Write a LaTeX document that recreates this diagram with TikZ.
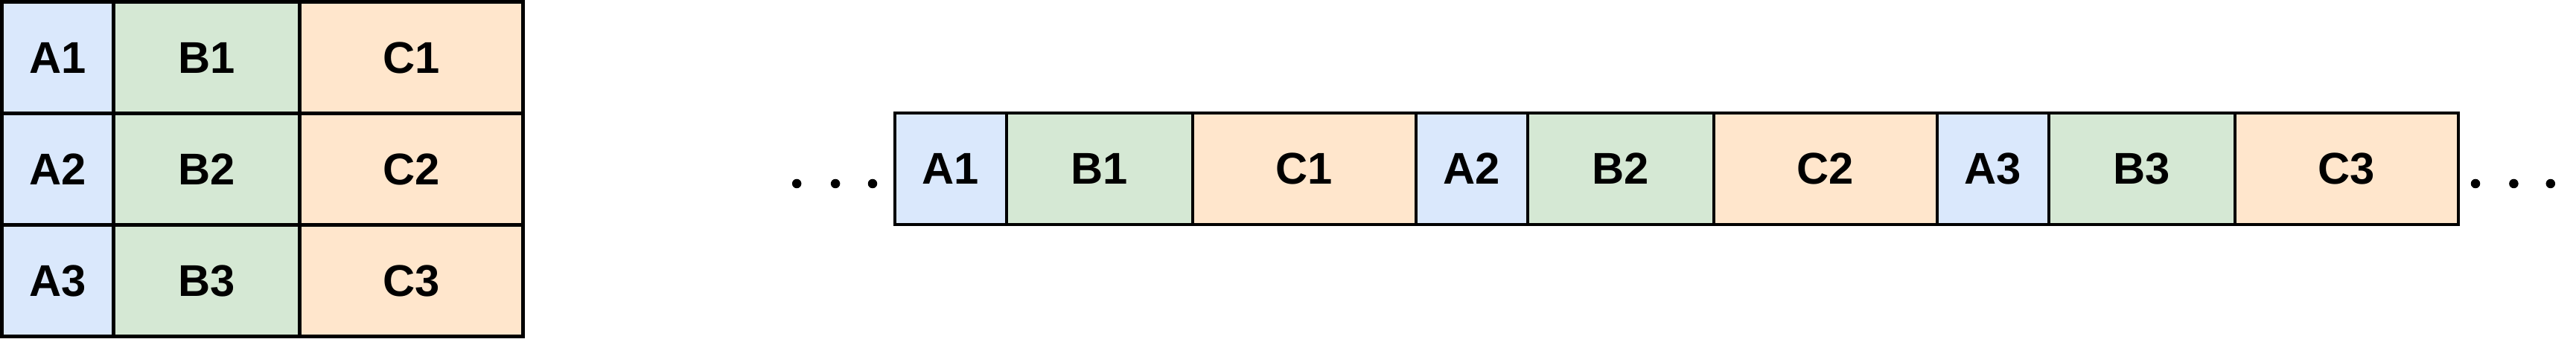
\documentclass[tikz,border=0pt]{standalone}
\usepackage{fontspec}
\setmainfont{Liberation Sans}
\usetikzlibrary{positioning}

\definecolor{cellblue}{HTML}{DAE8FC}
\definecolor{cellgreen}{HTML}{D5E8D4}
\definecolor{cellorange}{HTML}{FFE6CC}

\tikzset{
  cell/.style={draw=black, line width=1.4pt, inner sep=0pt, outer sep=0pt,
    minimum height=1.5cm, font=\fontsize{17}{20}\selectfont\bfseries},
  acell/.style={cell, fill=cellblue, minimum width=1.5cm},
  bcell/.style={cell, fill=cellgreen, minimum width=2.5cm},
  ccell/.style={cell, fill=cellorange, minimum width=3cm},
  dot/.style={circle, fill=black, inner sep=0pt, minimum size=0.125cm},
}

\begin{document}
\begin{tikzpicture}

  \useasboundingbox (0,0) rectangle (34.6,4.6);

  % table, one row per record
  \node[acell] (a1) at (0.775,3.825) {A1};
  \node[bcell, right=0 of a1] (b1) {B1};
  \node[ccell, right=0 of b1] (c1) {C1};

  \node[acell, below=0 of a1] (a2) {A2};
  \node[bcell, right=0 of a2] (b2) {B2};
  \node[ccell, right=0 of b2] (c2) {C2};

  \node[acell, below=0 of a2] (a3) {A3};
  \node[bcell, right=0 of a3] (b3) {B3};
  \node[ccell, right=0 of b3] (c3) {C3};

  % same records laid out in one strip
  \node[acell] (s-a1) at (12.77,2.33) {A1};
  \node[bcell, right=0 of s-a1] (s-b1) {B1};
  \node[ccell, right=0 of s-b1] (s-c1) {C1};
  \node[acell, right=0 of s-c1] (s-a2) {A2};
  \node[bcell, right=0 of s-a2] (s-b2) {B2};
  \node[ccell, right=0 of s-b2] (s-c2) {C2};
  \node[acell, right=0 of s-c2] (s-a3) {A3};
  \node[bcell, right=0 of s-a3] (s-b3) {B3};
  \node[ccell, right=0 of s-b3] (s-c3) {C3};

  % ellipses on both ends
  \node[dot] (ldot-3) at ([xshift=-0.30cm, yshift=-0.2cm]s-a1.west) {};
  \node[dot, left=0.36 of ldot-3] (ldot-2) {};
  \node[dot, left=0.38 of ldot-2] (ldot-1) {};

  \node[dot] (rdot-1) at ([xshift=0.23cm, yshift=-0.2cm]s-c3.east) {};
  \node[dot, right=0.375 of rdot-1] (rdot-2) {};
  \node[dot, right=0.355 of rdot-2] (rdot-3) {};

\end{tikzpicture}
\end{document}
